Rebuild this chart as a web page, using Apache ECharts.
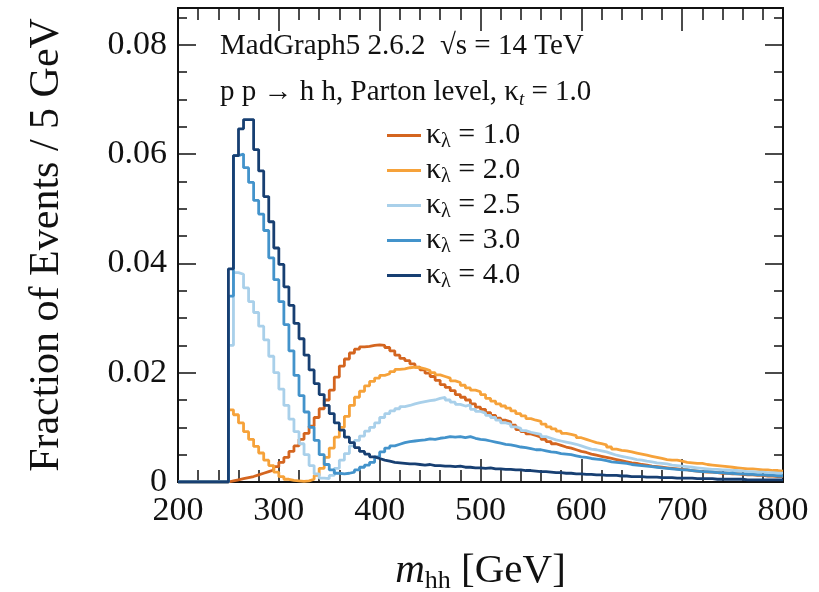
<!DOCTYPE html>
<html>
<head>
<meta charset="utf-8">
<title>mhh kappa lambda</title>
<script src="https://cdn.jsdelivr.net/npm/echarts@6/dist/echarts.min.js"></script>
<style>
  html, body { margin: 0; padding: 0; background: #fff; }
  #chart { width: 819px; height: 592px; }
</style>
</head>
<body>
<div id="chart"></div>
<script>
// histogram bins: 5 GeV wide, first non-empty bin starts at 250 GeV
var xMin = 200, xMax = 800, firstBin = 250, binWidth = 5;
var kappaLabels = ['1.0', '2.0', '2.5', '3.0', '4.0'];
var colors = ['#d4651f', '#f6a23a', '#a9d0ea', '#4393cb', '#173f72'];

var kl1 = [
  0.0002, 0.0004, 0.0006, 0.0008, 0.0010, 0.0013, 0.0016, 0.0019, 0.0022, 0.0028,
  0.0036, 0.0045, 0.0056, 0.0066, 0.0078, 0.0089, 0.0102, 0.0118, 0.0134, 0.0150,
  0.0168, 0.0192, 0.0212, 0.0225, 0.0236, 0.0243, 0.0247, 0.0248, 0.0250, 0.0251,
  0.0250, 0.0246, 0.0240, 0.0232, 0.0226, 0.0222, 0.0216, 0.0210, 0.0205, 0.0199,
  0.0193, 0.0186, 0.0178, 0.0173, 0.0167, 0.0160, 0.0155, 0.0150, 0.0143, 0.0137,
  0.0133, 0.0127, 0.0122, 0.0117, 0.0113, 0.0110, 0.0104, 0.0096, 0.0092, 0.0088,
  0.0085, 0.0082, 0.0078, 0.0074, 0.0070, 0.0067, 0.0064, 0.0062, 0.0059, 0.0056,
  0.0054, 0.0051, 0.0049, 0.0047, 0.0045, 0.0043, 0.0041, 0.0039, 0.0037, 0.0035,
  0.0034, 0.0032, 0.0031, 0.0029, 0.0028, 0.0027, 0.0026, 0.0025, 0.0024, 0.0023,
  0.0022, 0.0021, 0.0020, 0.0019, 0.0018, 0.0018, 0.0017, 0.0016, 0.0016, 0.0015,
  0.0015, 0.0014, 0.0013, 0.0013, 0.0012, 0.0012, 0.0011, 0.0011, 0.0010, 0.0010
];
var kl2 = [
  0.0132, 0.0123, 0.0108, 0.0092, 0.0078, 0.0065, 0.0053, 0.0040, 0.0030, 0.0018,
  0.0010, 0.0005, 0.0003, 0.0002, 0.0001, 0.0002, 0.0005, 0.0012, 0.0025, 0.0045,
  0.0062, 0.0082, 0.0100, 0.0120, 0.0140, 0.0155, 0.0166, 0.0176, 0.0184, 0.0190,
  0.0195, 0.0198, 0.0202, 0.0206, 0.0207, 0.0209, 0.0210, 0.0209, 0.0207, 0.0204,
  0.0200, 0.0196, 0.0193, 0.0190, 0.0185, 0.0182, 0.0177, 0.0172, 0.0168, 0.0165,
  0.0160, 0.0153, 0.0148, 0.0143, 0.0139, 0.0135, 0.0130, 0.0125, 0.0121, 0.0116,
  0.0113, 0.0111, 0.0106, 0.0101, 0.0097, 0.0093, 0.0089, 0.0087, 0.0085, 0.0081,
  0.0078, 0.0075, 0.0072, 0.0070, 0.0068, 0.0064, 0.0060, 0.0058, 0.0057, 0.0055,
  0.0053, 0.0051, 0.0049, 0.0047, 0.0045, 0.0043, 0.0041, 0.0040, 0.0040, 0.0038,
  0.0036, 0.0035, 0.0034, 0.0034, 0.0032, 0.0031, 0.0030, 0.0029, 0.0028, 0.0027,
  0.0026, 0.0025, 0.0024, 0.0024, 0.0023, 0.0022, 0.0022, 0.0021, 0.0021, 0.0020
];
var kl25 = [
  0.0250, 0.0383, 0.0380, 0.0355, 0.0330, 0.0310, 0.0285, 0.0260, 0.0230, 0.0200,
  0.0170, 0.0140, 0.0115, 0.0092, 0.0070, 0.0050, 0.0030, 0.0015, 0.0007, 0.0006,
  0.0012, 0.0025, 0.0040, 0.0052, 0.0066, 0.0076, 0.0084, 0.0093, 0.0100, 0.0108,
  0.0118, 0.0125, 0.0130, 0.0134, 0.0138, 0.0140, 0.0143, 0.0145, 0.0147, 0.0149,
  0.0150, 0.0153, 0.0155, 0.0150, 0.0146, 0.0142, 0.0139, 0.0141, 0.0133, 0.0129,
  0.0126, 0.0122, 0.0118, 0.0113, 0.0108, 0.0106, 0.0101, 0.0098, 0.0094, 0.0091,
  0.0089, 0.0087, 0.0083, 0.0080, 0.0077, 0.0075, 0.0073, 0.0071, 0.0069, 0.0066,
  0.0063, 0.0060, 0.0059, 0.0057, 0.0055, 0.0052, 0.0049, 0.0047, 0.0045, 0.0043,
  0.0041, 0.0040, 0.0038, 0.0037, 0.0035, 0.0034, 0.0033, 0.0031, 0.0030, 0.0029,
  0.0028, 0.0027, 0.0026, 0.0025, 0.0024, 0.0023, 0.0023, 0.0022, 0.0022, 0.0021,
  0.0021, 0.0020, 0.0019, 0.0019, 0.0018, 0.0018, 0.0017, 0.0017, 0.0016, 0.0016
];
var kl3 = [
  0.0340, 0.0597, 0.0600, 0.0575, 0.0548, 0.0515, 0.0490, 0.0460, 0.0410, 0.0370,
  0.0330, 0.0288, 0.0240, 0.0195, 0.0158, 0.0128, 0.0100, 0.0076, 0.0050, 0.0032,
  0.0022, 0.0016, 0.0015, 0.0016, 0.0018, 0.0022, 0.0027, 0.0031, 0.0036, 0.0046,
  0.0055, 0.0062, 0.0066, 0.0069, 0.0072, 0.0074, 0.0075, 0.0076, 0.0077, 0.0079,
  0.0078, 0.0080, 0.0081, 0.0083, 0.0082, 0.0083, 0.0081, 0.0083, 0.0080, 0.0078,
  0.0077, 0.0075, 0.0073, 0.0071, 0.0069, 0.0068, 0.0066, 0.0064, 0.0063, 0.0061,
  0.0059, 0.0059, 0.0057, 0.0055, 0.0054, 0.0052, 0.0051, 0.0050, 0.0048, 0.0046,
  0.0045, 0.0043, 0.0042, 0.0041, 0.0039, 0.0037, 0.0036, 0.0035, 0.0034, 0.0032,
  0.0031, 0.0030, 0.0029, 0.0028, 0.0027, 0.0026, 0.0025, 0.0024, 0.0023, 0.0022,
  0.0022, 0.0021, 0.0020, 0.0019, 0.0019, 0.0018, 0.0017, 0.0017, 0.0016, 0.0016,
  0.0015, 0.0015, 0.0014, 0.0014, 0.0013, 0.0013, 0.0012, 0.0012, 0.0011, 0.0011
];
var kl4 = [
  0.0390, 0.0597, 0.0646, 0.0663, 0.0663, 0.0608, 0.0569, 0.0522, 0.0476, 0.0428,
  0.0398, 0.0357, 0.0323, 0.0290, 0.0262, 0.0232, 0.0205, 0.0180, 0.0160, 0.0140,
  0.0125, 0.0108, 0.0095, 0.0082, 0.0072, 0.0063, 0.0056, 0.0051, 0.0046, 0.0043,
  0.0040, 0.0038, 0.0036, 0.0035, 0.0034, 0.0033, 0.0033, 0.0032, 0.0031, 0.0032,
  0.0030, 0.0030, 0.0029, 0.0029, 0.0028, 0.0029, 0.0027, 0.0027, 0.0026, 0.0026,
  0.0025, 0.0026, 0.0024, 0.0024, 0.0023, 0.0023, 0.0022, 0.0022, 0.0021, 0.0021,
  0.0020, 0.0019, 0.0019, 0.0018, 0.0017, 0.0017, 0.0016, 0.0016, 0.0015, 0.0015,
  0.0014, 0.0014, 0.0013, 0.0013, 0.0012, 0.0012, 0.0012, 0.0011, 0.0011, 0.0010,
  0.0010, 0.0010, 0.0009, 0.0009, 0.0009, 0.0008, 0.0008, 0.0008, 0.0007, 0.0007,
  0.0007, 0.0007, 0.0006, 0.0006, 0.0006, 0.0006, 0.0005, 0.0005, 0.0005, 0.0005,
  0.0005, 0.0005, 0.0004, 0.0004, 0.0004, 0.0004, 0.0004, 0.0004, 0.0004, 0.0004
];
var histograms = [kl1, kl2, kl25, kl3, kl4];

var serif = '"Liberation Serif", "DejaVu Serif", serif';
var ink = '#111';

// turn bin contents into step points (left bin edges + closing edge)
function histPoints(vals) {
  var pts = [[xMin, 0]];
  for (var i = 0; i < vals.length; i++) {
    pts.push([firstBin + i * binWidth, vals[i]]);
  }
  pts.push([xMax, vals[vals.length - 1]]);
  return pts;
}

var series = histograms.map(function (vals, i) {
  return {
    name: 'κλ = ' + kappaLabels[i],
    type: 'line',
    step: 'end',
    symbol: 'none',
    xAxisIndex: 0,
    yAxisIndex: 0,
    lineStyle: { color: colors[i], width: 2.8 },
    itemStyle: { color: colors[i] },
    data: histPoints(vals)
  };
});

function xAxisCfg(pos, showLabel) {
  return {
    type: 'value', position: pos, min: xMin, max: xMax, interval: 100,
    axisLine: { show: true, onZero: false, lineStyle: { color: ink, width: 2 } },
    axisTick: { show: true, inside: true, length: 23, lineStyle: { color: ink, width: 1.5 } },
    minorTick: { show: true, splitNumber: 5, length: 12, lineStyle: { color: ink, width: 1.5 } },
    splitLine: { show: false },
    axisLabel: { show: showLabel, margin: 12, color: ink, fontFamily: serif, fontSize: 34 }
  };
}

function yAxisCfg(pos, step, tickLen, showLabel) {
  return {
    type: 'value', position: pos, min: 0, max: 0.0867, interval: step,
    axisLine: { show: true, onZero: false, lineStyle: { color: ink, width: 2 } },
    axisTick: { show: true, inside: true, length: tickLen, lineStyle: { color: ink, width: 1.5 } },
    splitLine: { show: false },
    axisLabel: {
      show: showLabel, showMaxLabel: false, margin: 11, color: ink, fontFamily: serif, fontSize: 34,
      formatter: function (v) { return v === 0 ? '0' : v.toFixed(2); }
    }
  };
}

var yMain = yAxisCfg('left', 0.02, 18, true);
yMain.name = 'Fraction of Events / 5 GeV';
yMain.nameLocation = 'middle';
yMain.nameRotate = 90;
yMain.nameGap = 110;
yMain.nameTextStyle = { color: ink, fontFamily: serif, fontSize: 42 };

var xMain = xAxisCfg('bottom', true);
xMain.name = '{m|m}{s|hh} [GeV]';
xMain.nameLocation = 'middle';
xMain.nameGap = 66;
xMain.nameTextStyle = {
  color: ink, fontFamily: serif, fontSize: 41, lineHeight: 46,
  rich: {
    m: { fontFamily: serif, fontSize: 41, fontStyle: 'italic', color: ink, lineHeight: 46 },
    s: { fontFamily: serif, fontSize: 26, color: ink, lineHeight: 26, verticalAlign: 'bottom' }
  }
};

var chart = echarts.init(document.getElementById('chart'));
chart.setOption({
  animation: false,
  backgroundColor: '#fff',
  grid: { left: 178, right: 36, top: 8, bottom: 110, outerBoundsMode: 'none' },
  xAxis: [xMain, xAxisCfg('top', false)],
  yAxis: [
    yMain,
    yAxisCfg('right', 0.02, 18, false),
    yAxisCfg('left', 0.005, 9, false),
    yAxisCfg('right', 0.005, 9, false)
  ],
  legend: {
    orient: 'vertical', left: 382, top: 114,
    icon: 'rect', itemWidth: 34, itemHeight: 3, itemGap: 2,
    data: series.map(function (s) { return s.name; }),
    formatter: function (name) {
      return '{k|κ}{l|λ}{n| = ' + name.split('= ')[1] + '}';
    },
    textStyle: {
      color: ink, fontFamily: serif, fontSize: 30, lineHeight: 33,
      rich: {
        k: { fontFamily: serif, fontSize: 30, color: ink, lineHeight: 33 },
        l: { fontFamily: serif, fontSize: 20, color: ink, lineHeight: 17, verticalAlign: 'bottom' },
        n: { fontFamily: serif, fontSize: 30, color: ink, lineHeight: 33 }
      }
    }
  },
  graphic: [
    {
      type: 'text', left: 220, top: 32,
      style: { text: 'MadGraph5 2.6.2  √s = 14 TeV', fill: ink, font: '29px "Liberation Serif"' }
    },
    {
      type: 'text', left: 220, top: 75,
      style: {
        text: 'p p → h h, Parton level, {k|κ}{t|t}{n| = 1.0}',
        fill: ink, font: '29px "Liberation Serif"', lineHeight: 34,
        rich: {
          k: { fontFamily: serif, fontSize: 29, fill: ink, lineHeight: 34 },
          t: { fontFamily: serif, fontSize: 19, fontStyle: 'italic', fill: ink, lineHeight: 16, verticalAlign: 'bottom' },
          n: { fontFamily: serif, fontSize: 29, fill: ink, lineHeight: 34 }
        }
      }
    }
  ],
  series: series
});
</script>
</body>
</html>
